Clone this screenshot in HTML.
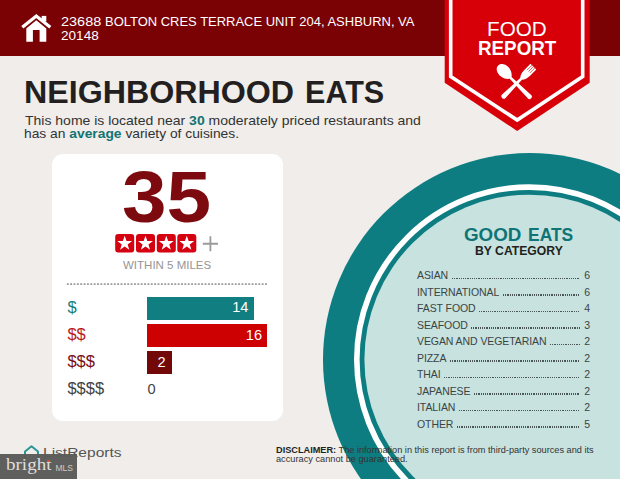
<!DOCTYPE html>
<html><head><meta charset="utf-8">
<style>
*{margin:0;padding:0;box-sizing:border-box}
html,body{width:620px;height:479px;overflow:hidden;background:#f0edea;font-family:"Liberation Sans",sans-serif}
.t{position:absolute;white-space:nowrap;line-height:1;transform-origin:0 0}
#hdr{position:absolute;left:0;top:0;width:620px;height:56px;background:#7a0204}
#card{position:absolute;left:52px;top:154px;width:231px;height:267px;background:#fff;border-radius:11px}
.bar{position:absolute;left:147px;height:23px}
.cat{position:absolute;left:417px;width:173px;font-size:10.5px;line-height:1;color:#3b4444;display:flex;white-space:nowrap;letter-spacing:-0.08px}
.cat .d{flex:1;height:1.6px;margin:7.5px 4.5px 0 3.6px;background:repeating-linear-gradient(to right,#4a5656 0 1.2px,transparent 1.2px 2.2px)}
</style></head><body>
<div id="hdr"></div>
<!-- house icon -->
<svg style="position:absolute;left:0;top:0" width="620" height="479">
  <polyline points="22.3,27.3 36.3,16 50.3,27.3" fill="none" stroke="#fff" stroke-width="3.3"/>
  <rect x="41.7" y="15.9" width="4.6" height="5.5" fill="#fff"/>
  <path d="M26.3 28.4 L36.3 20.3 L46.3 28.4 L46.3 41.8 L39.6 41.8 L39.6 30.1 L32.9 30.1 L32.9 41.8 L26.3 41.8 Z" fill="#fff"/>
</svg>
<div class="t" id="addr1a" style="left:61.2px;top:16.4px;font-size:12.8px;color:#fff;transform:scaleX(1.13)">23688</div>
<div class="t" id="addr1" style="left:105.2px;top:16.4px;font-size:12.8px;color:#fff;transform:scaleX(1.0135)">BOLTON CRES TERRACE UNIT 204, ASHBURN, VA</div>
<div class="t" id="addr2" style="left:61.3px;top:30.2px;font-size:12.8px;color:#fff;transform:scaleX(1.06)">20148</div>

<!-- badge -->
<svg style="position:absolute;left:0;top:0" width="620" height="479">
  <polygon points="444.7,0 589.7,0 589.7,82.7 517.2,131 444.7,82.7" fill="#d80008"/>
  <polyline points="450.7,0 450.7,76.5 517.2,120 582.7,76.5 582.7,0" fill="none" stroke="#fff" stroke-width="3.6"/>
</svg>
<div class="t" id="food" style="left:486.8px;top:19.6px;font-size:19.8px;color:#fff;transform:scaleX(1.045)">FOOD</div>
<div class="t" id="report" style="left:477.6px;top:38.6px;font-size:19.8px;color:#fff;font-weight:bold;transform:scaleX(0.95)">REPORT</div>

<svg style="position:absolute;left:0;top:0" width="620" height="479">
 <g fill="#fff">
  <g transform="translate(514.6 81.8) rotate(-45)">
    <path d="M0 -23.2 C4 -23.2 6.1 -19 6.1 -15 C6.1 -10.5 3.5 -7.2 1.3 -5.6 L2.4 21 Q2.4 23.4 0 23.4 Q-2.4 23.4 -2.4 21 L-1.3 -5.6 C-3.5 -7.2 -6.1 -10.5 -6.1 -15 C-6.1 -19 -4 -23.2 0 -23.2 Z"/>
  </g>
  <g transform="translate(518.6 81.4) rotate(45)">
    <path d="M-4.1 -20.9 L4.1 -20.9 L4.1 -12.5 Q4.1 -6.5 1.2 -3.5 L2.4 20.9 Q2.4 23.3 0 23.3 Q-2.4 23.3 -2.4 20.9 L-1.2 -3.5 Q-4.1 -6.5 -4.1 -12.5 Z"/>
  </g>
 </g>
 <g stroke="#e04040" stroke-width="0.8">
  <g transform="translate(518.6 81.4) rotate(45)">
   <line x1="-2" y1="-21.5" x2="-2" y2="-14"/>
   <line x1="0" y1="-21.5" x2="0" y2="-14"/>
   <line x1="2" y1="-21.5" x2="2" y2="-14"/>
  </g>
 </g>
</svg>
<div class="t" id="title" style="left:24.0px;top:78.4px;font-size:30.9px;color:#231f20;font-weight:bold;transform:scaleX(1.042)">NEIGHBORHOOD</div>
<div class="t" id="title2" style="left:305.4px;top:78.4px;font-size:30.9px;color:#231f20;font-weight:bold;transform:scaleX(0.989)">EATS</div>
<div class="t" id="p1" style="left:25px;top:113.5px;font-size:13px;color:#333;transform:scaleX(1.0763)">This home is located near <b style="color:#127474">30</b> moderately priced restaurants and</div>
<div class="t" id="p2" style="left:24px;top:127.2px;font-size:13px;color:#333;transform:scaleX(1.0625)">has an <b style="color:#127474">average</b> variety of cuisines.</div>

<div id="card"></div>
<div class="t" id="n35" style="left:122.3px;top:160.5px;font-size:72px;color:#7d0a0f;font-weight:bold;transform:scaleX(1.113)">35</div>
<svg style="position:absolute;left:0;top:0" width="620" height="479">
  <rect x="115.2" y="234" width="19" height="18.6" rx="3" fill="#d50010"/>
  <rect x="136" y="234" width="19" height="18.6" rx="3" fill="#d50010"/>
  <rect x="156.8" y="234" width="19" height="18.6" rx="3" fill="#d50010"/>
  <rect x="177.3" y="234" width="19" height="18.6" rx="3" fill="#d50010"/>
  <path transform="translate(124.7 243.5) scale(1.2)" d="M0,-6.5 L1.53,-2.1 L6.18,-2.01 L2.47,0.8 L3.82,5.26 L0,2.6 L-3.82,5.26 L-2.47,0.8 L-6.18,-2.01 L-1.53,-2.1 Z" fill="#fff"/>
  <path transform="translate(145.5 243.5) scale(1.2)" d="M0,-6.5 L1.53,-2.1 L6.18,-2.01 L2.47,0.8 L3.82,5.26 L0,2.6 L-3.82,5.26 L-2.47,0.8 L-6.18,-2.01 L-1.53,-2.1 Z" fill="#fff"/>
  <path transform="translate(166.3 243.5) scale(1.2)" d="M0,-6.5 L1.53,-2.1 L6.18,-2.01 L2.47,0.8 L3.82,5.26 L0,2.6 L-3.82,5.26 L-2.47,0.8 L-6.18,-2.01 L-1.53,-2.1 Z" fill="#fff"/>
  <path transform="translate(186.8 243.5) scale(1.2)" d="M0,-6.5 L1.53,-2.1 L6.18,-2.01 L2.47,0.8 L3.82,5.26 L0,2.6 L-3.82,5.26 L-2.47,0.8 L-6.18,-2.01 L-1.53,-2.1 Z" fill="#fff"/>
  <path d="M210.4 236.3 V251.2 M202.8 243.75 H218" stroke="#9a9a9a" stroke-width="1.8"/>
  <line x1="66.8" y1="284.1" x2="267.4" y2="284.1" stroke="#9c9c9c" stroke-width="1.8" stroke-dasharray="1.9 1.46"/>
</svg>
<div class="t" id="within" style="left:123px;top:259.5px;font-size:11.5px;color:#959595">WITHIN 5 MILES</div>

<div class="bar" style="top:296.5px;width:106.6px;background:#117f82"></div>
<div class="bar" style="top:323.5px;width:120px;background:#cd0002"></div>
<div class="bar" style="top:350.9px;width:24.8px;background:#730808"></div>
<div class="t" id="d1" style="left:67.4px;top:299px;font-size:16.5px;color:#15807f">$</div>
<div class="t" id="d2" style="left:67.4px;top:326px;font-size:16.5px;color:#bb1a20">$$</div>
<div class="t" id="d3" style="left:67.4px;top:353px;font-size:16.5px;color:#7a0f14">$$$</div>
<div class="t" id="d4" style="left:67.4px;top:380px;font-size:16.5px;color:#444">$$$$</div>
<div class="t" id="v14" style="left:232.2px;top:300px;font-size:14.6px;color:#fff">14</div>
<div class="t" id="v16" style="left:245.8px;top:327.5px;font-size:14.6px;color:#fff">16</div>
<div class="t" id="v2" style="left:157.5px;top:355px;font-size:14.6px;color:#fff">2</div>
<div class="t" id="v0" style="left:147.5px;top:382px;font-size:14.6px;color:#444">0</div>

<!-- circle -->
<svg style="position:absolute;left:0;top:0" width="620" height="479">
  <circle cx="529.6" cy="359.7" r="206.6" fill="#0e7d81"/>
  <circle cx="529.3" cy="359.6" r="172.5" fill="none" stroke="#fff" stroke-width="5.6"/>
  <circle cx="529.2" cy="359.5" r="164.8" fill="#c7e2df"/>
</svg>
<div class="t" id="ge" style="left:464.4px;top:226.8px;font-size:17.9px;color:#0f7476;font-weight:bold;transform:scaleX(1.05)">GOOD</div>
<div class="t" id="ge2" style="left:527.6px;top:226.8px;font-size:17.9px;color:#0f7476;font-weight:bold;transform:scaleX(0.975)">EATS</div>
<div class="t" id="bc" style="left:475px;top:244.5px;font-size:12.2px;color:#231f20;font-weight:bold;transform:scaleX(1.0)">BY CATEGORY</div>
<div class="cat" style="top:270.1px"><span id="c0">ASIAN</span><span class="d"></span><span>6</span></div>
<div class="cat" style="top:286.6px"><span id="c1">INTERNATIONAL</span><span class="d"></span><span>6</span></div>
<div class="cat" style="top:303.1px"><span id="c2">FAST FOOD</span><span class="d"></span><span>4</span></div>
<div class="cat" style="top:319.6px"><span id="c3">SEAFOOD</span><span class="d"></span><span>3</span></div>
<div class="cat" style="top:336.1px"><span id="c4">VEGAN AND VEGETARIAN</span><span class="d"></span><span>2</span></div>
<div class="cat" style="top:352.6px"><span id="c5">PIZZA</span><span class="d"></span><span>2</span></div>
<div class="cat" style="top:369.1px"><span id="c6">THAI</span><span class="d"></span><span>2</span></div>
<div class="cat" style="top:385.6px"><span id="c7">JAPANESE</span><span class="d"></span><span>2</span></div>
<div class="cat" style="top:402.1px"><span id="c8">ITALIAN</span><span class="d"></span><span>2</span></div>
<div class="cat" style="top:418.6px"><span id="c9">OTHER</span><span class="d"></span><span>5</span></div>

<div class="t" id="disc1" style="left:275.5px;top:445px;font-size:9.5px;color:#333;transform:scaleX(0.966)"><b style="color:#231f20">DISCLAIMER:</b> The information in this report is from third-party sources and its</div>
<div class="t" id="disc2" style="left:275.5px;top:454px;font-size:9.5px;color:#333;transform:scaleX(0.97)">accuracy cannot be guaranteed.</div>
<svg style="position:absolute;left:0;top:0" width="620" height="479">
  <path d="M25 460 L25 451.5 L31.5 446.3 L38 451.5 L38 460" fill="none" stroke="#2b9696" stroke-width="2" stroke-linejoin="round"/>
</svg>
<div class="t" id="lr" style="left:42.5px;top:446.1px;font-size:13.7px;color:#555;transform:scaleX(1.134)">ListReports</div>
<div style="position:absolute;left:0;top:454px;width:77.4px;height:25px;background:rgba(90,90,88,0.97)"></div>
<div class="t" id="bright" style="left:5.5px;top:456.2px;font-size:17px;color:#e0dedc;font-family:'Liberation Serif',serif;transform:scaleX(1.12)">bright</div>
<div style="position:absolute;left:47.3px;top:460px;width:2.4px;height:2.4px;border-radius:50%;background:#d9532b"></div>
<div class="t" id="mls" style="left:55.5px;top:464px;font-size:8.5px;color:#ccc">MLS</div>
</body></html>
